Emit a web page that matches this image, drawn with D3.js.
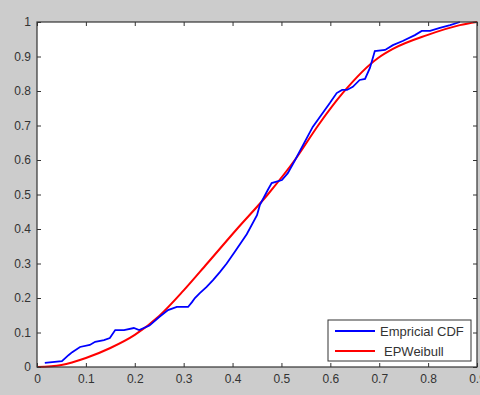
<!DOCTYPE html>
<html><head><meta charset="utf-8">
<script src="https://cdn.jsdelivr.net/npm/d3@7"></script>
<style>body{margin:0;background:#cccccc;}svg{display:block;}</style>
</head><body>
<svg id="c" width="480" height="395"></svg>
<script>
const xTicks = [0,0.1,0.2,0.3,0.4,0.5,0.6,0.7,0.8,0.9];
const yTicks = [0,0.1,0.2,0.3,0.4,0.5,0.6,0.7,0.8,0.9,1];
const seriesNames = ["Empricial CDF","EPWeibull"];
const empX = [0.016,0.051,0.065,0.072,0.088,0.108,0.119,0.137,0.149,0.16,0.178,0.198,0.209,0.23,0.25,0.268,0.286,0.309,0.317,0.323,0.333,0.347,0.36,0.374,0.388,0.405,0.429,0.45,0.456,0.472,0.48,0.501,0.513,0.528,0.564,0.599,0.613,0.624,0.634,0.646,0.66,0.671,0.681,0.691,0.712,0.728,0.748,0.773,0.787,0.804,0.824,0.845,0.865];
const empY = [0.012,0.017,0.035,0.043,0.058,0.064,0.073,0.078,0.084,0.107,0.107,0.113,0.107,0.12,0.145,0.165,0.174,0.174,0.188,0.2,0.214,0.232,0.252,0.275,0.3,0.335,0.385,0.44,0.47,0.513,0.533,0.542,0.562,0.6,0.696,0.765,0.794,0.803,0.803,0.812,0.832,0.835,0.867,0.916,0.919,0.933,0.945,0.962,0.974,0.974,0.983,0.991,1.0];
const fitX = [0,0.05,0.1,0.15,0.2,0.25,0.3,0.348,0.409,0.472,0.53,0.575,0.626,0.697,0.728,0.798,0.865,0.9];
const fitY = [0,0.006,0.026,0.055,0.093,0.148,0.222,0.3,0.4,0.5,0.605,0.7,0.795,0.895,0.922,0.962,0.991,1.0];

const svg = d3.select("#c");
const L=37, R=477, T=22, B=367;
const x = d3.scaleLinear().domain([0,0.9]).range([L,R]);
const y = d3.scaleLinear().domain([0,1]).range([B,T]);

svg.append("rect").attr("x",L).attr("y",T).attr("width",R-L).attr("height",B-T).attr("fill","#fff");

const line = d3.line().x(d=>x(d[0])).y(d=>y(d[1]));
svg.append("path").datum(fitX.map((v,i)=>[v,fitY[i]])).attr("d",d3.line().curve(d3.curveMonotoneX).x(d=>x(d[0])).y(d=>y(d[1])))
  .attr("fill","none").attr("stroke","#ff0000").attr("stroke-width",2);
svg.append("path").datum(empX.map((v,i)=>[v,empY[i]])).attr("d",line)
  .attr("fill","none").attr("stroke","#0000ff").attr("stroke-width",1.8);

const font = "Liberation Sans, Arial, sans-serif";
const xb = svg.append("g").attr("transform",`translate(0,${B})`).call(d3.axisBottom(x).tickValues(xTicks).tickFormat(d3.format("")).tickSizeInner(-4).tickSizeOuter(0).tickPadding(7));
const xt = svg.append("g").attr("transform",`translate(0,${T})`).call(d3.axisTop(x).tickValues(xTicks).tickFormat("").tickSizeInner(-4).tickSizeOuter(0));
const yl = svg.append("g").attr("transform",`translate(${L},0)`).call(d3.axisLeft(y).tickValues(yTicks).tickFormat(d3.format("")).tickSizeInner(-4).tickSizeOuter(0).tickPadding(6));
const yr = svg.append("g").attr("transform",`translate(${R},0)`).call(d3.axisRight(y).tickValues(yTicks).tickFormat("").tickSizeInner(-4).tickSizeOuter(0));
[xb,xt,yl,yr].forEach(g=>{
  g.select(".domain").remove();
  g.selectAll("line").attr("stroke","#333");
  g.selectAll("text").attr("fill","#333").style("font-family",font).style("font-size","12px");
});
svg.append("rect").attr("x",L).attr("y",T).attr("width",R-L).attr("height",B-T).attr("fill","none").attr("stroke","#333").attr("stroke-width",1.2);

// legend
const lg = svg.append("g");
lg.append("rect").attr("x",328).attr("y",320).attr("width",143).attr("height",41).attr("fill","#fff").attr("stroke","#333").attr("stroke-width",1);
const colors=["#0000ff","#ff0000"];
const ly=[331,351], lx=[380,384];
seriesNames.forEach((n,i)=>{
  lg.append("line").attr("x1",335).attr("x2",375).attr("y1",ly[i]).attr("y2",ly[i]).attr("stroke",colors[i]).attr("stroke-width",2);
  lg.append("text").attr("x",lx[i]).attr("y",ly[i]+4.5).text(n).attr("fill","#333").style("font-family",font).style("font-size","13px");
});
</script>
</body></html>
